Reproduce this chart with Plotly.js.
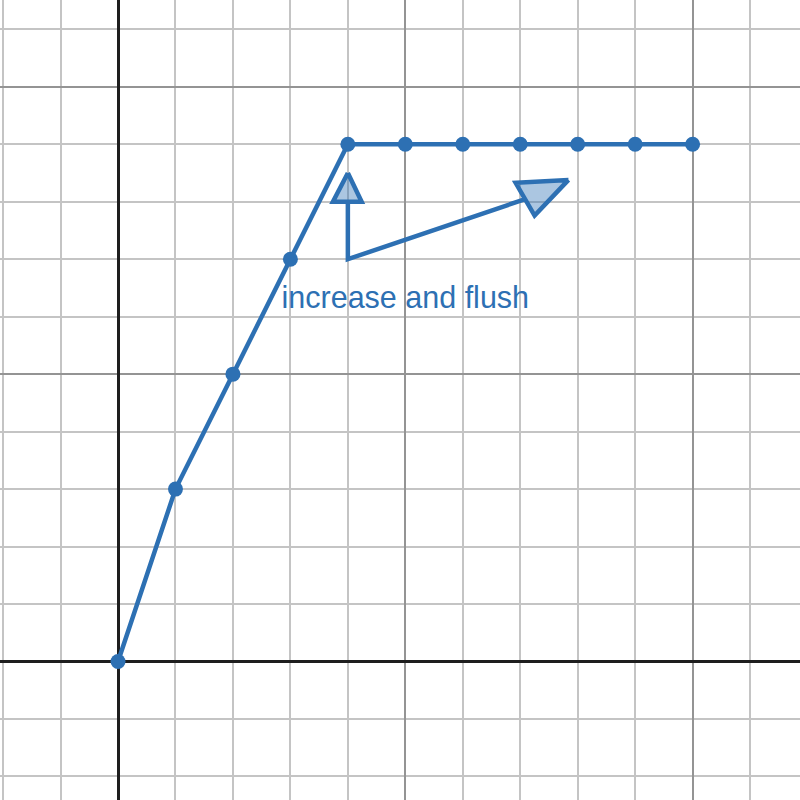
<!DOCTYPE html>
<html>
<head>
<meta charset="utf-8">
<script src="https://cdn.plot.ly/plotly-3.0.1.min.js"></script>
<style>html,body{margin:0;padding:0;background:#fff;}#chart{width:800px;height:800px;}</style>
</head>
<body>
<div id="chart"></div>
<script>
// Data
const pointX = [0, 1, 2, 3, 4, 5, 6, 7, 8, 9, 10];
const pointY = [0, 3, 5, 7, 9, 9, 9, 9, 9, 9, 9];
const shaftX = [4, 4, 7.1];
const shaftY = [8.0, 7, 8.05];
const headUpX = [4, 3.74, 4.24, 4];
const headUpY = [8.5, 8.0, 8.0, 8.5];
const headRightX = [7.84, 6.92, 7.25, 7.84];
const headRightY = [8.38, 8.33, 7.76, 8.38];
const labelText = ["increase and flush"];
const labelX = [5];
const labelY = [6.29];

const blue = '#2d70b3';

const traces = [
  {x: shaftX, y: shaftY, mode: 'lines', line: {color: blue, width: 4.5}, hoverinfo: 'skip'},
  {x: headUpX, y: headUpY, mode: 'lines', fill: 'toself', fillcolor: 'rgba(45,112,179,0.4)', line: {color: blue, width: 4.5}, hoverinfo: 'skip'},
  {x: headRightX, y: headRightY, mode: 'lines', fill: 'toself', fillcolor: 'rgba(45,112,179,0.4)', line: {color: blue, width: 4.5}, hoverinfo: 'skip'},
  {x: pointX, y: pointY, mode: 'lines+markers', line: {color: blue, width: 4.5}, marker: {color: blue, size: 15}},
  {x: labelX, y: labelY, mode: 'text', text: labelText, textfont: {family: 'Liberation Sans, Arial, sans-serif', size: 30.5, color: blue}, hoverinfo: 'skip'}
];

const axisCommon = {
  showticklabels: false,
  ticks: '',
  dtick: 5,
  tick0: 0,
  gridcolor: '#949494',
  gridwidth: 2,
  minor: {dtick: 1, tick0: 0, showgrid: true, gridcolor: '#c4c4c4', gridwidth: 2},
  zeroline: true,
  zerolinecolor: '#1e1e1e',
  zerolinewidth: 3,
  showline: false,
  fixedrange: true
};

const layout = {
  width: 800, height: 800,
  margin: {l: 0, r: 0, t: 0, b: 0},
  paper_bgcolor: '#ffffff',
  plot_bgcolor: '#ffffff',
  showlegend: false,
  xaxis: Object.assign({}, axisCommon, {range: [-2.054, 11.869]}),
  yaxis: Object.assign({}, axisCommon, {range: [-2.41, 11.51]})
};

Plotly.newPlot('chart', traces, layout, {displayModeBar: false, staticPlot: true});
</script>
</body>
</html>
